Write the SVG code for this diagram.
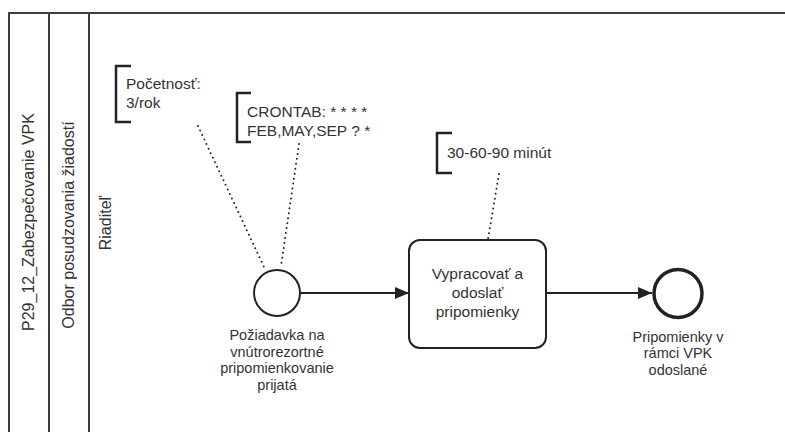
<svg xmlns="http://www.w3.org/2000/svg" width="785" height="432" viewBox="0 0 785 432">
<defs>
<style>
.t{font-family:"Liberation Sans",Arial,sans-serif;fill:#333;}
.lane{font-size:16px;}
.ann{font-size:15.5px;}
.lbl{font-size:14.5px;text-anchor:middle;}
.task{font-size:15.5px;text-anchor:middle;}
.pool{stroke:#3c3c3c;stroke-width:2;fill:none;}
.br{stroke:#222;stroke-width:2.5;fill:none;}
.dot{stroke:#222;stroke-width:2;stroke-dasharray:0 5;stroke-linecap:round;fill:none;}
.flow{stroke:#222;stroke-width:2;fill:none;}
</style>
<marker id="arr" markerWidth="14" markerHeight="12" refX="14" refY="6" orient="auto" markerUnits="userSpaceOnUse">
<path d="M0,0 L14,6 L0,12 Z" fill="#222"/>
</marker>
</defs>
<rect width="785" height="432" fill="#fff"/>
<g id="pool">
<path class="pool" d="M9,432 V13 H785"/>
<path class="pool" d="M49,13 V432"/>
<path class="pool" d="M89,13 V432"/>
<text class="t lane" text-anchor="middle" transform="translate(34,222) rotate(-90)">P29_12_Zabezpečovanie VPK</text>
<text class="t lane" text-anchor="middle" transform="translate(73.5,225) rotate(-90)">Odbor posudzovania žiadostí</text>
<text class="t lane" text-anchor="middle" transform="translate(110.5,223) rotate(-90)">Riaditeľ</text>
</g>
<g id="connectors">
<line class="dot" x1="198" y1="126" x2="264" y2="267"/>
<line class="dot" x1="299" y1="144" x2="281" y2="266"/>
<line class="dot" x1="499" y1="174" x2="488" y2="239"/>
<line class="flow" x1="300" y1="293" x2="409" y2="293" marker-end="url(#arr)"/>
<line class="flow" x1="546" y1="293" x2="652" y2="293" marker-end="url(#arr)"/>
</g>
<g id="ann1">
<path class="br" d="M131,66 H116 V122 H131"/>
<text class="t ann" x="126" y="89">Početnosť:</text>
<text class="t ann" x="126" y="108">3/rok</text>
</g>
<g id="ann2">
<path class="br" d="M251,93 H237 V142 H251"/>
<text class="t ann" x="247" y="117">CRONTAB: * * * *</text>
<text class="t ann" x="247" y="136">FEB,MAY,SEP ? *</text>
</g>
<g id="ann3">
<path class="br" d="M452,133 H437 V173 H452"/>
<text class="t ann" x="447" y="158">30-60-90 minút</text>
</g>
<g id="start">
<circle cx="277" cy="293" r="23" fill="#fff" stroke="#222" stroke-width="2"/>
<text class="t lbl" x="277" y="340">Požiadavka na</text>
<text class="t lbl" x="277" y="356.7">vnútrorezortné</text>
<text class="t lbl" x="277" y="373.3">pripomienkovanie</text>
<text class="t lbl" x="277" y="390">prijatá</text>
</g>
<g id="task">
<rect x="409" y="240" width="137" height="108" rx="11" fill="#fff" stroke="#222" stroke-width="2"/>
<text class="t task" x="477.5" y="279">Vypracovať a</text>
<text class="t task" x="477.5" y="298">odoslať</text>
<text class="t task" x="477.5" y="317">pripomienky</text>
</g>
<g id="end">
<circle cx="678" cy="293.5" r="24" fill="#fff" stroke="#222" stroke-width="3.5"/>
<text class="t lbl" x="678" y="341.5">Pripomienky v</text>
<text class="t lbl" x="678" y="358">rámci VPK</text>
<text class="t lbl" x="678" y="374.5">odoslané</text>
</g>
</svg>
